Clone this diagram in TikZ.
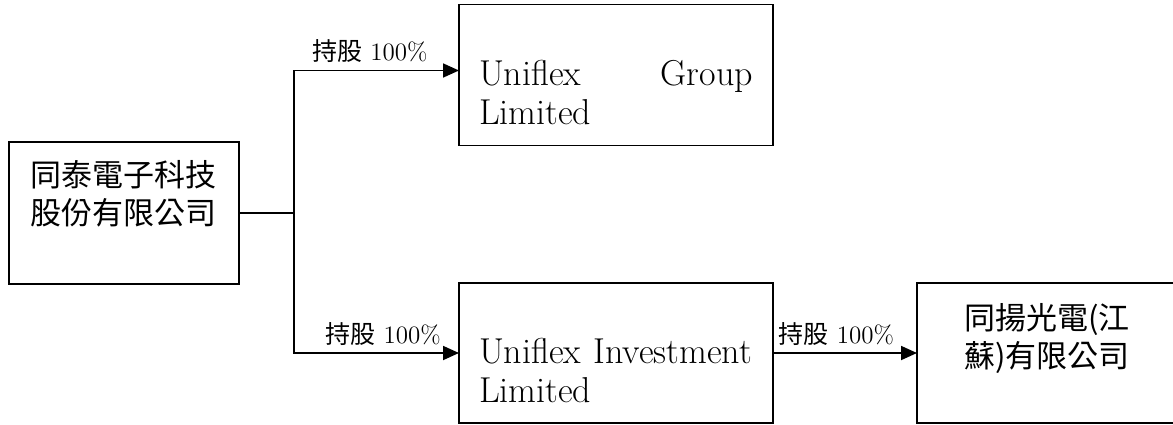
\documentclass[tikz,border=0pt]{standalone}
\usepackage{fontspec}
\newfontfamily\cjk{Noto Sans CJK TC}
\usetikzlibrary{positioning,arrows.meta}

\begin{document}
\begin{tikzpicture}[%
    >={Triangle[length=8pt,width=7pt]}, % Solid arrow heads
    node distance=72pt and 110pt,        % Global setup of box spacing
    line width=0.9pt,                    % All lines have the same weight
    ]
% -------------------------------------------------
% A few box styles
\tikzset{
  base/.style={draw, inner sep=0pt, outer sep=0pt},
  box/.style={base, rectangle, minimum width=157pt, minimum height=70.5pt},
  % Texts inside the boxes
  zh/.style={font={\cjk\fontsize{15.5}{19}\selectfont}, align=center},
  en/.style={font={\fontsize{18}{19.5}\selectfont}, text width=137pt, align=left},
  % Connector line styles
  own/.style={->},
  pct/.style={above, inner sep=0pt, yshift=3.5pt, font={\fontsize{12.5}{14}\selectfont}}
}
% Fix the page to the size of the picture
\useasboundingbox (-62pt,-105.5pt) rectangle (524.5pt,106.5pt);
% -------------------------------------------------
% Start by placing the boxes

\node [box, minimum width=115pt, minimum height=71pt] (ttc) {};
\node [box, right = 110pt of ttc, yshift=69pt] (ugl) {};
\node [box, right = 110pt of ttc, yshift=-70pt, minimum height=70pt] (uil) {};
\node [box, right = 72pt of uil, minimum width=130pt, minimum height=70pt] (tyj) {};

% Then the texts, a little off the box centres
\node [zh] (ttctext) at ([yshift=9.5pt]ttc.center) {同泰電子科技\\股份有限公司};
\node [en] (ugltext) at ([yshift=-9pt]ugl.center) {Uniflex\hfill Group\\Limited};
\node [en] (uiltext) at ([yshift=-9pt]uil.center) {Uniflex~Investment\\Limited};
\node [zh] (tyjtext) at ([yshift=7pt]tyj.center) {同揚光電(江\\蘇)有限公司};

% -------------------------------------------------
% Connectors
\coordinate [right = 27.5pt of ttc] (split);
\draw (ttc) -- (split);		%TTC,split
\draw[own] (split) |- ([yshift=2.25pt]ugl.west)
  node[pct, pos=0.73] {{\cjk 持股} 100\%};		%TTC,Uniflex Group,100
\draw[own] (split) |- (uil.west)
  node[pct, pos=0.77] {{\cjk 持股} 100\%};		%TTC,Uniflex Investment,100
\draw[own] (uil) -- (tyj)
  node[pct, pos=0.44] {{\cjk 持股} 100\%};		%Uniflex Investment,Jiangsu,100

% -------------------------------------------------
\end{tikzpicture}
\end{document}
